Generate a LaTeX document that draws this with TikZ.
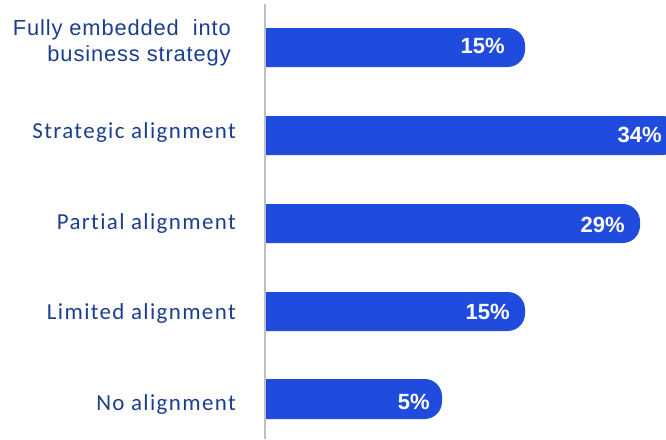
\documentclass[tikz,border=0pt]{standalone}
\usepackage{fontspec}
\setmainfont{Carlito}
\newfontfamily\arialfont{Liberation Sans}
\usepackage{xcolor}
\usepackage{tikz}
\usetikzlibrary{positioning}
\definecolor{barblue}{HTML}{1F4BDF}
\definecolor{labelblue}{HTML}{1A3E8E}
\definecolor{axisgray}{HTML}{C0C0C0}
\tikzstyle{bar} = [fill=barblue]
\tikzstyle{value} = [anchor=base east, inner sep=0pt, text=white, font=\arialfont\bfseries\fontsize{16.5}{18}\selectfont]
\tikzstyle{category} = [anchor=base east, inner sep=0pt, text=labelblue, font=\fontsize{17.2}{20}\selectfont\addfontfeature{LetterSpace=6,Ligatures=NoCommon}]
\tikzstyle{axis} = [draw=axisgray, line width=1.5pt]

\begin{document}
\begin{tikzpicture}[x=0.75pt, y=-0.75pt]
\useasboundingbox (0,0) rectangle (666,439);
% bars, measured in pixels
\fill [bar] (266,28) [rounded corners=13pt] -- (525,28) -- (525,67) [sharp corners] -- (266,67) -- cycle;
\fill [bar] (266,116) [rounded corners=13pt] -- (680,116) -- (680,155) [sharp corners] -- (266,155) -- cycle;
\fill [bar] (266,204) [rounded corners=13pt] -- (640,204) -- (640,243) [sharp corners] -- (266,243) -- cycle;
\fill [bar] (266,292) [rounded corners=13pt] -- (525,292) -- (525,331) [sharp corners] -- (266,331) -- cycle;
\fill [bar] (266,379) [rounded corners=13pt] -- (442,379) -- (442,419) [sharp corners] -- (266,419) -- cycle;
\coordinate (axtop) at (265,4);
\coordinate (axbot) at (265,439);
\draw [axis] (axtop) -- (axbot);
% values
\node (v1) [value] at (505,53.5) {15\%};
\node (v2) [value] at (662,142) {34\%};
\node (v3) [value] at (625,232) {29\%};
\node (v4) [value] at (510,319) {15\%};
\node (v5) [value] at (430,409) {5\%};
% categories
\node (c1) [category, anchor=east, align=right, font=\arialfont\fontsize{16.4}{19.5}\selectfont\addfontfeature{LetterSpace=4}] at (231,42.5) {Fully embedded\ \ into\\business strategy};
\node (c2) [category] at (236,138.3) {Strategic alignment};
\node (c3) [category] at (236,229) {Partial alignment};
\node (c4) [category] at (236,319) {Limited alignment};
\node (c5) [category] at (236,410) {No alignment};
\end{tikzpicture}
\end{document}
